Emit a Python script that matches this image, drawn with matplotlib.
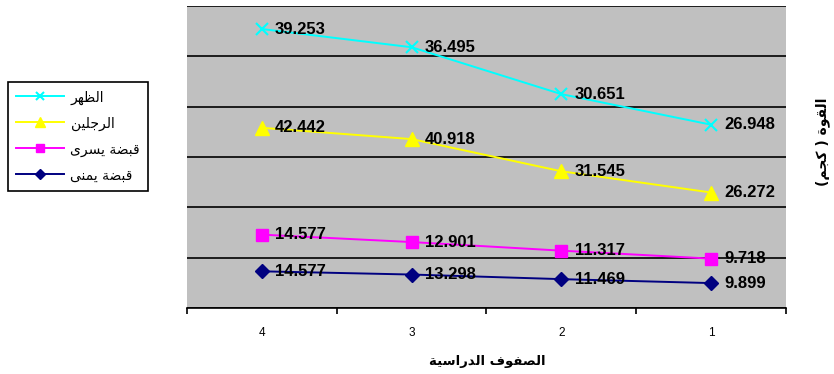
import numpy as np
import matplotlib
matplotlib.use("Agg")
import matplotlib.pyplot as plt
from matplotlib.ticker import FixedLocator

# values per school grade (1..4), stacked bottom to top
grades = ["1", "2", "3", "4"]
right_grip = [9.899, 11.469, 13.298, 14.577]
left_grip = [9.718, 11.317, 12.901, 14.577]
legs = [26.272, 31.545, 40.918, 42.442]
back = [26.948, 30.651, 36.495, 39.253]

names = ["قبضة يمنى", "قبضة يسرى", "الرجلين", "الظهر"]
colors = ["#000080", "#FF00FF", "#FFFF00", "#00FFFF"]
markers = ["D", "s", "^", "x"]
msizes = [7, 8, 10, 8]

x_title = "الصفوف الدراسية"
y_title = "القوة ( كجم)"

# Arabic presentation forms: isolated, final, initial, medial
FORMS = {
    "ا": ("\uFE8D", "\uFE8E", None, None),
    "ب": ("\uFE8F", "\uFE90", "\uFE91", "\uFE92"),
    "ة": ("\uFE93", "\uFE94", None, None),
    "ج": ("\uFE9D", "\uFE9E", "\uFE9F", "\uFEA0"),
    "د": ("\uFEA9", "\uFEAA", None, None),
    "ر": ("\uFEAD", "\uFEAE", None, None),
    "س": ("\uFEB1", "\uFEB2", "\uFEB3", "\uFEB4"),
    "ص": ("\uFEB9", "\uFEBA", "\uFEBB", "\uFEBC"),
    "ض": ("\uFEBD", "\uFEBE", "\uFEBF", "\uFEC0"),
    "ظ": ("\uFEC5", "\uFEC6", "\uFEC7", "\uFEC8"),
    "ف": ("\uFED1", "\uFED2", "\uFED3", "\uFED4"),
    "ق": ("\uFED5", "\uFED6", "\uFED7", "\uFED8"),
    "ك": ("\uFED9", "\uFEDA", "\uFEDB", "\uFEDC"),
    "ل": ("\uFEDD", "\uFEDE", "\uFEDF", "\uFEE0"),
    "م": ("\uFEE1", "\uFEE2", "\uFEE3", "\uFEE4"),
    "ن": ("\uFEE5", "\uFEE6", "\uFEE7", "\uFEE8"),
    "ه": ("\uFEE9", "\uFEEA", "\uFEEB", "\uFEEC"),
    "و": ("\uFEED", "\uFEEE", None, None),
    "ى": ("\uFEEF", "\uFEF0", None, None),
    "ي": ("\uFEF1", "\uFEF2", "\uFEF3", "\uFEF4"),
}


def shape(text):
    # join letters and flip to visual order, since matplotlib does no RTL layout
    out = []
    for i, ch in enumerate(text):
        if ch not in FORMS:
            out.append(ch)
            continue
        prev = text[i - 1] if i > 0 else ""
        nxt = text[i + 1] if i + 1 < len(text) else ""
        iso, fin, ini, med = FORMS[ch]
        jp = prev in FORMS and FORMS[prev][2] is not None
        jn = nxt in FORMS and ini is not None
        if jp and jn:
            out.append(med)
        elif jp:
            out.append(fin)
        elif jn:
            out.append(ini)
        else:
            out.append(iso)
    s = "".join(reversed(out))
    return s.translate(str.maketrans("()", ")("))


AR = "DejaVu Sans"
NUM = "Liberation Sans"

fig = plt.figure(figsize=(8.34, 3.74), dpi=100)
ax = fig.add_axes([187 / 834, 66 / 374, 599 / 834, 302 / 374])
ax.set_facecolor("#C0C0C0")

xs = np.arange(len(grades))
series = [right_grip, left_grip, legs, back]
stacked = np.cumsum(series, axis=0)

handles = []
for vals, tops, name, c, m, ms in zip(series, stacked, names, colors, markers, msizes):
    (ln,) = ax.plot(xs, tops, color=c, lw=1.4, marker=m, markersize=ms,
                    markeredgewidth=1.5 if m == "x" else 1.0, label=shape(name), zorder=3)
    handles.append(ln)
    for xi, top, v in zip(xs, tops, vals):
        ax.annotate(f"{v:.3f}", (xi, top), xytext=(9.5, 0), textcoords="offset points",
                    ha="left", va="center", fontsize=12, fontweight="bold",
                    family=NUM, color="black", zorder=4)

ax.set_xlim(3.5, -0.5)
ax.set_ylim(0, 120)
ax.set_yticks(np.arange(0, 121, 20))
ax.yaxis.grid(True, color="black", lw=1.2)
ax.set_axisbelow(True)
ax.tick_params(axis="y", left=False, labelleft=False)

ax.set_xticks(xs)
ax.set_xticklabels(grades, family=NUM, fontsize=8.5)
ax.xaxis.set_minor_locator(FixedLocator(np.arange(-0.5, 4, 1)))
ax.tick_params(axis="x", which="major", length=0, pad=14)
ax.tick_params(axis="x", which="minor", length=4, width=1.2, color="black", direction="out")

for side in ["left", "right", "top"]:
    ax.spines[side].set_visible(False)
ax.spines["bottom"].set_linewidth(1.2)

fig.text(487 / 834, 1 - 361 / 374, shape(x_title), ha="center", va="center",
         fontsize=9.5, fontweight="bold", family=AR)
fig.text(823 / 834, 1 - 142 / 374, shape(y_title), ha="center", va="center",
         rotation=90, fontsize=10, fontweight="bold", family=AR)

leg = fig.legend(handles[::-1], [h.get_label() for h in handles[::-1]],
                 loc="upper left", bbox_to_anchor=(8 / 834, 1 - 82 / 374),
                 borderaxespad=0, fancybox=False, framealpha=1, edgecolor="black",
                 prop={"family": AR, "size": 10}, handlelength=3.4, handletextpad=0.5,
                 labelspacing=0.85, borderpad=0.6, markerscale=0.7)
leg.get_frame().set_linewidth(1.2)

fig.savefig("out.png", dpi=100)
